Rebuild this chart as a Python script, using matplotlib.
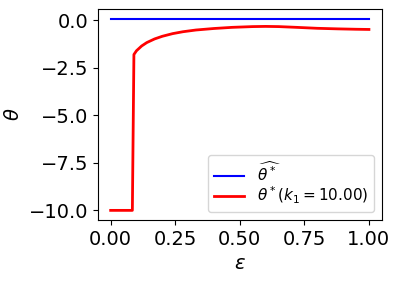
import matplotlib
matplotlib.use("Agg")
import matplotlib.pyplot as plt

eps_hat = [0.0, 1.0]
theta_hat = [0.09, 0.09]

eps = [0.0, 0.02, 0.04, 0.06, 0.084, 0.09, 0.10, 0.12, 0.14, 0.17, 0.20, 0.24, 0.28, 0.33, 0.40, 0.47, 0.55, 0.60, 0.65, 0.72, 0.80, 0.88, 0.95, 1.0]
theta = [-10.0, -10.0, -10.0, -10.0, -10.0, -1.8, -1.6, -1.35, -1.17, -0.98, -0.84, -0.70, -0.60, -0.51, -0.43, -0.37, -0.33, -0.32, -0.33, -0.37, -0.42, -0.45, -0.47, -0.48]

plt.rcParams['font.size'] = 14
fig, ax = plt.subplots(figsize=(3.99, 2.82), dpi=100)
ax.plot(eps_hat, theta_hat, color='blue', lw=1.5, label=r'$\widehat{\theta^*}$')
ax.plot(eps, theta, color='red', lw=2, label=r'$\theta^*(k_1=10.00)$')
ax.set_xlabel(r'$\epsilon$')
ax.set_ylabel(r'$\theta$')
ax.set_xticks([0, 0.25, 0.5, 0.75, 1.0])
ax.set_yticks([0, -2.5, -5, -7.5, -10])
ax.legend(loc='lower right', fontsize=11, labelspacing=0.05, borderpad=0.4)
fig.subplots_adjust(left=0.245, right=0.957, top=0.968, bottom=0.22)
fig.savefig('out.png', dpi=100)
